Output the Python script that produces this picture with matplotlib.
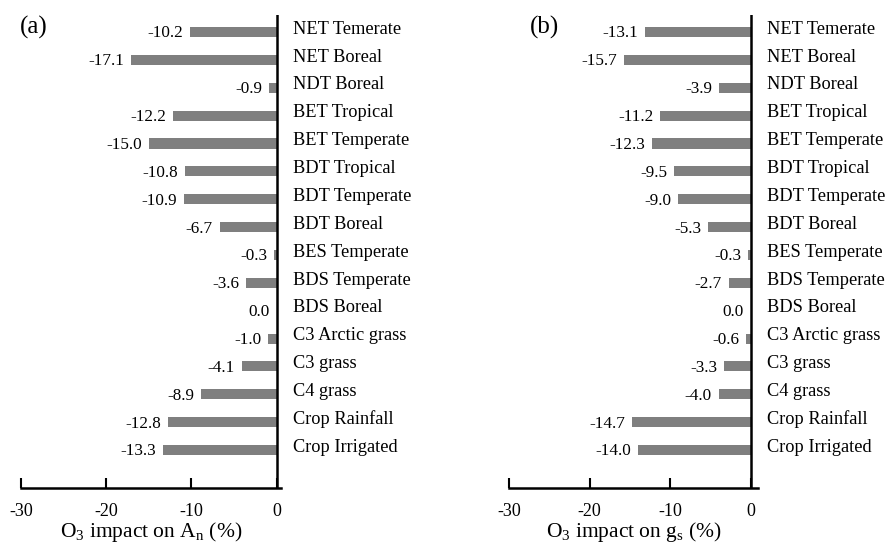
import matplotlib.pyplot as plt

plt.rcParams['font.family'] = ['Liberation Serif', 'DejaVu Serif']
plt.rcParams['mathtext.fontset'] = 'custom'
plt.rcParams['mathtext.rm'] = 'Liberation Serif'
plt.rcParams['mathtext.it'] = 'Liberation Serif:italic'
plt.rcParams['axes.unicode_minus'] = False

categories = ["NET Temerate", "NET Boreal", "NDT Boreal", "BET Tropical", "BET Temperate",
              "BDT Tropical", "BDT Temperate", "BDT Boreal", "BES Temperate", "BDS Temperate",
              "BDS Boreal", "C3 Arctic grass", "C3 grass", "C4 grass", "Crop Rainfall",
              "Crop Irrigated"]
impact_An = [-10.2, -17.1, -0.9, -12.2, -15.0, -10.8, -10.9, -6.7, -0.3, -3.6,
             0.0, -1.0, -4.1, -8.9, -12.8, -13.3]
impact_gs = [-13.1, -15.7, -3.9, -11.2, -12.3, -9.5, -9.0, -5.3, -0.3, -2.7,
             0.0, -0.6, -3.3, -4.0, -14.7, -14.0]
xticks = [-30, -20, -10, 0]

fig = plt.figure(figsize=(8.9, 5.43), dpi=100)
ax_a = fig.add_axes([21/890, 55/543, 260/890, 473/543])
ax_b = fig.add_axes([509/890, 55/543, 249/890, 473/543])

panels = [
    (ax_a, impact_An, 0.5, r"O$_\mathregular{3}$ impact on A$_\mathregular{n}$ (%)"),
    (ax_b, impact_gs, 0.9, r"O$_\mathregular{3}$ impact on g$_\mathregular{s}$ (%)"),
]

for ax, vals, xr, xlab in panels:
    ypos = list(range(len(categories)))
    ax.barh(ypos, vals, height=0.36, color='#7f7f7f')
    ax.set_xlim(-30, xr)
    ax.set_ylim(len(categories) - 1 + 1.36, -0.61)
    ax.axvline(0, color='black', lw=1.8)
    for s in ['top', 'left', 'right']:
        ax.spines[s].set_visible(False)
    ax.spines['bottom'].set_linewidth(1.8)
    ax.set_yticks([])
    ax.set_xticks(xticks)
    ax.tick_params(axis='x', direction='in', length=7, width=1.5, labelsize=13, pad=11)
    ax.set_xlabel(xlab, fontsize=15.5, labelpad=0)
    for y, v, name in zip(ypos, vals, categories):
        ax.annotate(f"{v:.1f}", (v, y), xytext=(-5, -1), textcoords='offset points',
                    ha='right', va='center', fontsize=12.3)
        ax.annotate(name, (0, y), xytext=(11.5, 2), textcoords='offset points',
                    ha='left', va='center', fontsize=13.2, annotation_clip=False)

fig.text(20/890, 1 - 27/543, "(a)", fontsize=18, ha='left', va='center')
fig.text(530/890, 1 - 27/543, "(b)", fontsize=18, ha='left', va='center')

fig.savefig("out.png", dpi=100)
